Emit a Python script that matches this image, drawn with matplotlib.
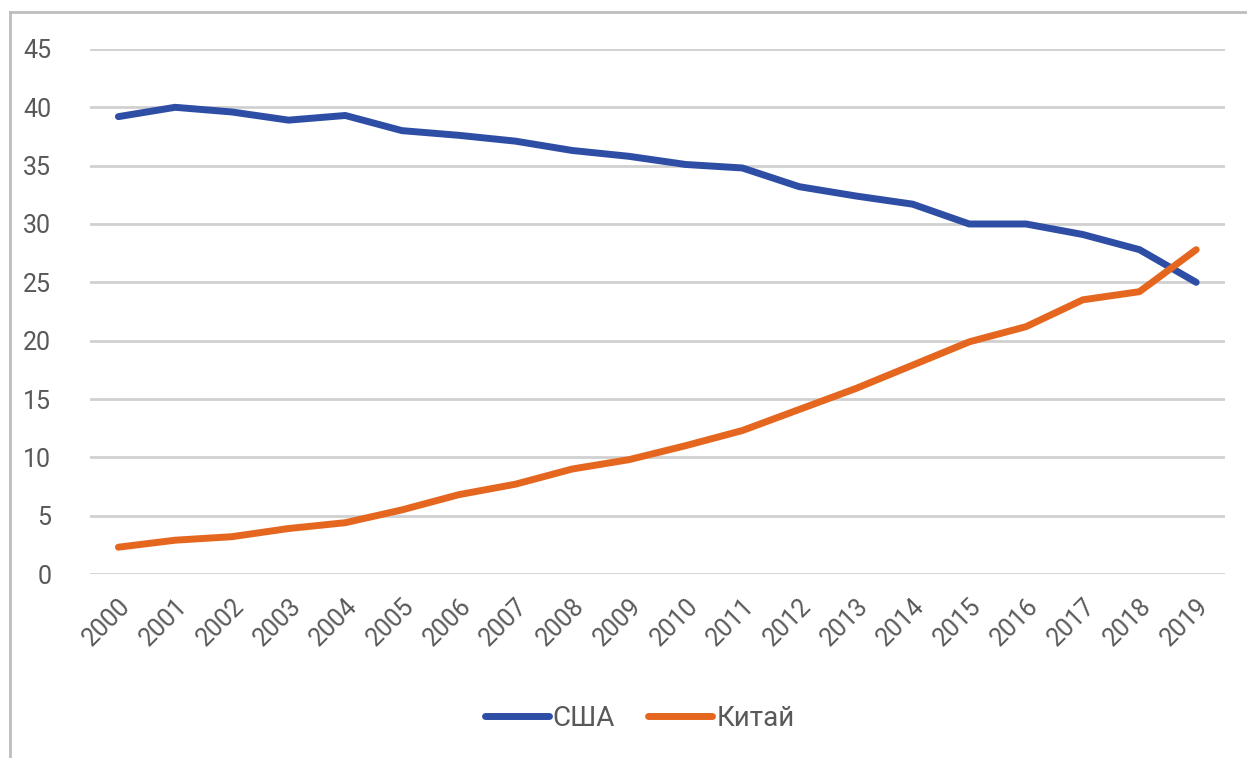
import matplotlib
matplotlib.use("Agg")
import matplotlib.pyplot as plt
from matplotlib.lines import Line2D

# Годы и доли двух стран (%)
years = [str(y) for y in range(2000, 2020)]
usa = [39.2, 40.0, 39.6, 38.9, 39.3, 38.0, 37.6, 37.1, 36.3, 35.8,
       35.1, 34.8, 33.2, 32.4, 31.7, 30.0, 30.0, 29.1, 27.8, 25.0]
china = [2.3, 2.9, 3.2, 3.9, 4.4, 5.5, 6.8, 7.7, 9.0, 9.8,
         11.0, 12.3, 14.1, 15.9, 17.9, 19.9, 21.2, 23.5, 24.2, 27.8]
yticks = [0, 5, 10, 15, 20, 25, 30, 35, 40, 45]

BLUE = "#2E4EA6"
ORANGE = "#E5671F"
TEXT = "#595959"

plt.rcParams["font.family"] = ["Roboto", "DejaVu Sans"]

fig = plt.figure(figsize=(12.47, 7.58), dpi=100)
ax = fig.add_axes([0.0722, 0.2427, 0.9098, 0.6927])

x = list(range(len(years)))
ax.plot(x, usa, color=BLUE, lw=5, solid_capstyle="round", solid_joinstyle="round", zorder=3)
ax.plot(x, china, color=ORANGE, lw=5, solid_capstyle="round", solid_joinstyle="round", zorder=3)

ax.set_xlim(-0.5, len(years) - 0.5)
ax.set_ylim(0, 45)
ax.set_yticks(yticks)
ax.set_yticklabels([str(v) for v in yticks], fontsize=18, color=TEXT)
ax.set_xticks(x)
ax.set_xticklabels(years, fontsize=18, color=TEXT, rotation=45,
                   ha="right", va="top", rotation_mode="anchor")
ax.tick_params(axis="both", length=0)
ax.tick_params(axis="y", pad=28)
ax.tick_params(axis="x", pad=14)

ax.grid(axis="y", color="#d0d0d0", lw=2)
ax.set_axisbelow(True)
for s in ax.spines.values():
    s.set_visible(False)

# рамка области диаграммы
fig.add_artist(Line2D([10 / 1247, 10 / 1247], [0, 1 - 12 / 758],
                      transform=fig.transFigure, color="#bdbdbd", lw=2))
fig.add_artist(Line2D([10 / 1247, 1], [1 - 12 / 758, 1 - 12 / 758],
                      transform=fig.transFigure, color="#bdbdbd", lw=2))

handles = [Line2D([], [], color=BLUE, lw=5, solid_capstyle="round"),
           Line2D([], [], color=ORANGE, lw=5, solid_capstyle="round")]
fig.legend(handles, ["США", "Китай"], loc="center", bbox_to_anchor=(0.513, 1 - 718 / 758),
           ncol=2, frameon=False, fontsize=20, labelcolor=TEXT,
           handlelength=2.3, handletextpad=0.15, columnspacing=1.2)

fig.savefig("out.png", dpi=100)
